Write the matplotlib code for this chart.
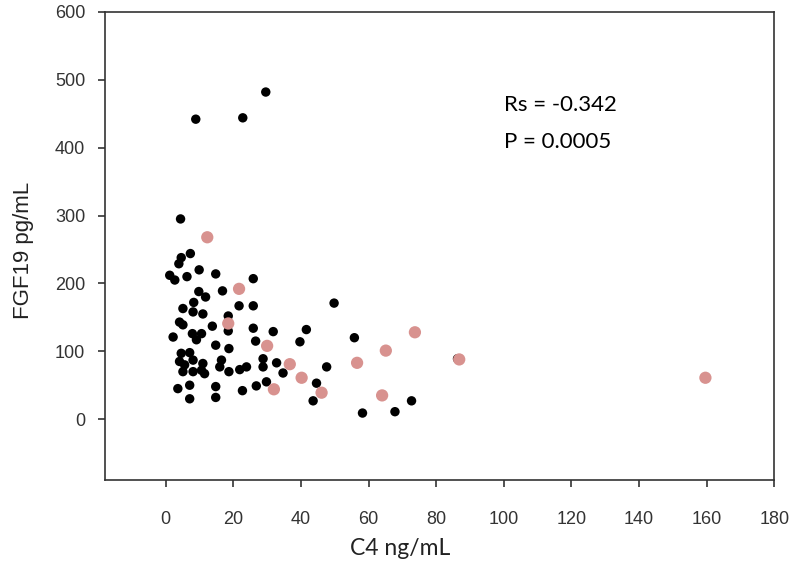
import matplotlib
matplotlib.use('Agg')
import matplotlib.pyplot as plt

# C4 (ng/mL) vs FGF19 (pg/mL)
black_x = [29.6, 8.9, 22.8, 4.4,
           7.3, 4.6, 3.9, 1.2, 2.7, 6.3, 9.9, 14.8, 25.9, 16.8, 9.8, 11.8, 8.3, 5.1, 21.7, 25.9, 49.8,
           8.1, 11.0, 4.1, 5.1, 18.5, 18.5, 13.8, 25.9, 31.8, 41.6, 2.2, 7.9, 10.6, 9.1, 14.8, 18.7,
           26.6, 39.7, 4.6, 7.1, 8.1, 4.1, 11.0, 16.5, 16.0, 28.8, 28.8, 32.8, 34.7, 47.6, 5.1, 8.1,
           11.5, 18.7, 21.9, 23.9, 7.1, 3.6, 14.8, 22.7, 26.8, 29.8, 44.6, 43.6, 7.1, 14.8, 5.6, 10.6,
           55.8, 86.3, 72.7, 58.2, 67.8]
black_y = [482, 442, 444, 295,
           244, 238, 229, 212, 205, 210, 220, 214, 207, 189, 188, 180, 172, 163, 167, 167, 171,
           158, 155, 143, 139, 152, 130, 137, 134, 129, 132, 121, 126, 126, 117, 109, 104,
           115, 114, 97, 98, 87, 85, 82, 87, 77, 89, 77, 83, 68, 77, 70, 70,
           67, 70, 73, 77, 50, 45, 48, 42, 49, 55, 53, 27, 30, 32, 80, 72,
           120, 89, 27, 9, 11]

pink_x = [12.3, 21.7, 18.5, 30.0, 36.7, 40.2, 32.0, 46.1, 56.6, 65.1, 73.7, 64.0, 86.8, 159.6]
pink_y = [268, 192, 141, 108, 81, 61, 44, 39, 83, 101, 128, 35, 88, 61]

x_ticks = [0, 20, 40, 60, 80, 100, 120, 140, 160, 180]
y_ticks = [0, 100, 200, 300, 400, 500, 600]

fig = plt.figure(figsize=(8, 5.69), dpi=100)
ax = fig.add_axes([0.131, 0.156, 0.837, 0.823])

ax.scatter(black_x, black_y, s=46, color='black', edgecolors='none', zorder=3)
ax.scatter(pink_x, pink_y, s=78, color='#d8928f', edgecolors='none', zorder=4)

ax.set_xlim(-18, 180)
ax.set_ylim(-90, 600)
ax.set_xticks(x_ticks)
ax.set_yticks(y_ticks)

for s in ax.spines.values():
    s.set_color('#333333')
    s.set_linewidth(1.2)

ax.tick_params(direction='out', length=5, width=1.2, color='#333333', labelcolor='#333333')
for lab in ax.get_xticklabels():
    lab.set_family(['Liberation Sans Narrow', 'Liberation Sans', 'DejaVu Sans'])
    lab.set_fontsize(13)
for lab in ax.get_yticklabels():
    lab.set_family(['Liberation Sans', 'DejaVu Sans'])
    lab.set_fontsize(13)
ax.tick_params(axis='x', pad=17)
ax.tick_params(axis='y', pad=9)

ax.set_xlabel('C4 ng/mL', fontsize=16.5, family=['Lato', 'DejaVu Sans'], color='#222222')
ax.set_ylabel('FGF19 pg/mL', fontsize=16, family=['Liberation Sans', 'DejaVu Sans'], color='#222222')
ax.xaxis.set_label_coords(0.441, -0.124)
ax.yaxis.set_label_coords(-0.105, 0.49)

ax.text(100, 463, 'Rs = -0.342', fontsize=16, family=['Lato', 'DejaVu Sans'], va='center', ha='left')
ax.text(100, 408, 'P = 0.0005', fontsize=16, family=['Lato', 'DejaVu Sans'], va='center', ha='left')

plt.savefig('out.png', dpi=100)
